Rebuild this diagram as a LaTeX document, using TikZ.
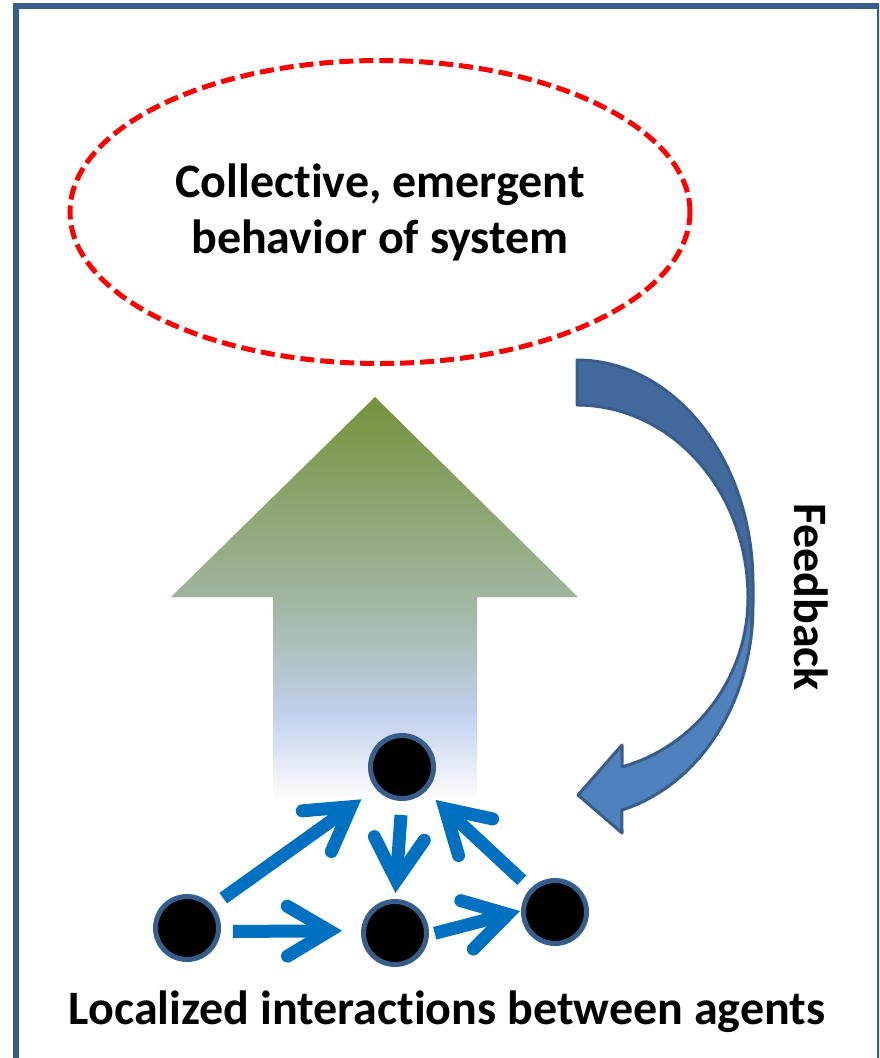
\documentclass[tikz,border=0pt]{standalone}
\usepackage{fontspec}
\setmainfont{Carlito}[Ligatures=NoCommon]
\usetikzlibrary{arrows.meta,shapes.geometric}

\definecolor{frameblue}{HTML}{385D8A}
\definecolor{linkblue}{HTML}{0070C0}
\definecolor{fbdark}{HTML}{41699C}
\definecolor{fblight}{HTML}{4F81BD}
\definecolor{olive}{HTML}{76923C}
\definecolor{sage}{HTML}{A0B59E}
\definecolor{mist}{HTML}{B3C4CB}
\definecolor{paleblue}{HTML}{C2D1EC}

\begin{document}
\begin{tikzpicture}[x=1pt,y=-1pt,
  agent/.style={circle, fill=black, draw=frameblue, line width=5pt,
    minimum size=63pt, inner sep=0pt},
  link/.style={draw=linkblue, line width=13pt, line cap=butt,
    -{Straight Barb[length=42pt, width=50pt, line cap=round, line join=miter]}},
  bigtext/.style={font=\bfseries\fontsize{48}{56}\selectfont, align=center,
    inner sep=0pt},
]
\useasboundingbox (0,0) rectangle (879,1058);
\clip (0,0) rectangle (879,1058);

% outer frame
\draw[frameblue, line width=6pt] (16,6) rectangle (879.5,1075);

% emergent behaviour
\node (goal) [ellipse, draw=red, line width=5pt, dash pattern=on 14pt off 6pt,
  minimum width=620pt, minimum height=303pt, bigtext] at (380,212)
  {Collective, emergent\\behavior of system};

% upward block arrow with fading gradient
\begin{scope}
  \clip (375,397) -- (578,597) -- (477,597) -- (477,800) -- (273,800)
    -- (273,597) -- (171,597) -- cycle;
  \shade[top color=olive, bottom color=sage] (160,396) rectangle (590,597.5);
  \shade[top color=sage, bottom color=mist] (160,597) rectangle (590,665.5);
  \shade[top color=mist, bottom color=paleblue] (160,665) rectangle (590,715.5);
  \shade[top color=paleblue, bottom color=white] (160,715) rectangle (590,801);
\end{scope}

% curved feedback arrow
\def\fbshape{(577,360)
  -- plot[domain=-90:0, samples=40] ({577+176*cos(\x)},{583+223*sin(\x)})
  -- plot[domain=0:75.2, samples=40] ({577+176*cos(\x)},{606+211*sin(\x)})
  -- (622,833) -- (578,795) -- (622,745)
  -- plot[domain=74.7:0, samples=40] ({577+171*cos(\x)},{598+175*sin(\x)})
  -- plot[domain=0:-90, samples=40] ({577+171*cos(\x)},{597+192*sin(\x)})
  -- cycle}
\fill[fblight] \fbshape;
\fill[fbdark] (577,360)
  -- plot[domain=-90:0, samples=40] ({577+176*cos(\x)},{583+223*sin(\x)})
  -- plot[domain=0:9, samples=10] ({577+176*cos(\x)},{606+211*sin(\x)})
  -- plot[domain=0:-90, samples=40] ({577+171*cos(\x)},{597+192*sin(\x)})
  -- cycle;
\draw[frameblue, line width=3pt, line join=round] \fbshape;

\node (fb) [bigtext, rotate=-90] at (811,597) {Feedback};

% agents
\node (apex)   [agent] at (402,767) {};
\node (west)   [agent] at (187,928) {};
\node (center) [agent] at (395,933) {};
\node (east)   [agent] at (555,912) {};

% local interactions
\draw[link, shorten <=13pt, shorten >=18pt] (west.41) -- (apex.220);
\draw[link, shorten <=14pt, shorten >=6pt] (apex.-90) -- (center.90);
\draw[link, shorten <=12pt, shorten >=13pt] (east.136) -- (apex.-45);
\draw[link, shorten <=12pt, shorten >=19pt] (west.-6) -- (center.176);
\draw[link, shorten <=6pt, shorten >=1pt] (center.-3) -- (east.178);

\node (caption) [bigtext] at (447,1012) {Localized interactions between agents};
\end{tikzpicture}
\end{document}
